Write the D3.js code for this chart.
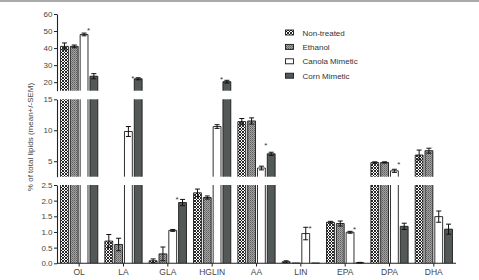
<!DOCTYPE html>
<html><head><meta charset="utf-8">
<script src="https://cdn.jsdelivr.net/npm/d3@7"></script>
<style>html,body{margin:0;padding:0;background:#fff;}svg{display:block;font-family:"Liberation Sans",Arial,sans-serif;}</style>
</head><body>
<script>
const categories = ["OL","LA","GLA","HGLIN","AA","LIN","EPA","DPA","DHA"];
const seriesNames = ["Non-treated","Ethanol","Canola Mimetic","Corn Mimetic"];
const nonTreated    = [41.0, 0.71, 0.08, 2.25, 11.4, 0.05, 1.31, 4.78, 6.0];
const nonTreatedSem = [2.0, 0.21, 0.06, 0.12, 0.5, 0.03, 0.03, 0.12, 0.8];
const ethanol       = [41.0, 0.60, 0.30, 2.10, 11.5, 0.01, 1.27, 4.80, 6.7];
const ethanolSem    = [0.8, 0.20, 0.22, 0.05, 0.5, 0.0, 0.08, 0.10, 0.4];
const canola        = [48.0, 9.8, 1.05, 10.6, 3.9, 0.95, 0.99, 3.45, 1.49];
const canolaSem     = [0.8, 0.8, 0.03, 0.3, 0.3, 0.2, 0.03, 0.25, 0.18];
const corn          = [23.5, 22.0, 1.94, 20.3, 6.2, 0.01, 0.02, 1.18, 1.09];
const cornSem       = [1.5, 0.6, 0.10, 0.8, 0.25, 0.0, 0.01, 0.10, 0.16];
const starAt        = [51.6, 23.2, 2.10, 22.6, 7.8, 1.17, 1.14, 4.82, null];
const bottomTicks = [0, 0.5, 1.0, 1.5, 2.0, 2.5];
const middleTicks = [5, 10, 15];
const topTicks = [20, 30, 40, 50, 60];
const yLabel = "% of total lipids (mean+/-SEM)";

const W = 479, H = 280;
const svg = d3.select("body").append("svg").attr("width", W).attr("height", H);
const defs = svg.append("defs");
const p1 = defs.append("pattern").attr("id","hatch").attr("patternUnits","userSpaceOnUse").attr("width",3).attr("height",3);
p1.append("rect").attr("width",3).attr("height",3).attr("fill","#fff");
p1.append("path").attr("d","M0,0L3,3M3,0L0,3").attr("stroke","#111").attr("stroke-width",0.9);
const p2 = defs.append("pattern").attr("id","dots").attr("patternUnits","userSpaceOnUse").attr("width",2).attr("height",2);
p2.append("rect").attr("width",2).attr("height",2).attr("fill","#a3a3a3");
p2.append("rect").attr("width",1).attr("height",1).attr("fill","#5e5e5e");
p2.append("rect").attr("x",1).attr("y",1).attr("width",1).attr("height",1).attr("fill","#7a7a7a");

const fills = ["url(#hatch)","url(#dots)","#ffffff","#535958"];

svg.append("rect").attr("x",0).attr("y",0).attr("width",W).attr("height",2).attr("fill","#aaaaaa");

const segments = [
  {d:[0,2.5], r:[263.3,185], ticks:bottomTicks, fmt:d3.format(".1f")},
  {d:[2.5,15], r:[176.7,99.3], ticks:middleTicks, fmt:d3.format("d")},
  {d:[15,60], r:[90.7,14], ticks:topTicks, fmt:d3.format("d")}
];
segments.forEach(s => s.y = d3.scaleLinear().domain(s.d).range(s.r));
function segOf(v){ for (const s of segments) if (v <= s.d[1]) return s; return segments[2]; }
function yv(v){ return segOf(v).y(v); }

const x0 = d3.scaleBand().domain(categories).range([57,456]).paddingInner(0.16).paddingOuter(0.08);
const x1 = d3.scaleBand().domain(seriesNames).range([0,x0.bandwidth()]).paddingInner(0.2);

const values = [nonTreated, ethanol, canola, corn];
const sems = [nonTreatedSem, ethanolSem, canolaSem, cornSem];
const rows = [];
categories.forEach((c,i) => seriesNames.forEach((s,j) => rows.push({c, s, j, v:values[j][i], e:sems[j][i]})));

const gBars = svg.append("g");
segments.forEach(seg => {
  const data = rows.filter(d => d.v > seg.d[0]);
  const g = gBars.append("g");
  g.selectAll("rect").data(data).join("rect")
    .attr("x", d => x0(d.c) + x1(d.s))
    .attr("width", x1.bandwidth())
    .attr("y", d => seg.y(Math.min(d.v, seg.d[1])))
    .attr("height", d => Math.max(0.3, seg.y(seg.d[0]) - seg.y(Math.min(d.v, seg.d[1]))))
    .attr("fill", d => fills[d.j]);
  g.selectAll("path").data(data).join("path")
    .attr("fill","none").attr("stroke","#1a1a1a").attr("stroke-width",0.9)
    .attr("d", d => {
      const xl = x0(d.c) + x1(d.s), xr = xl + x1.bandwidth();
      const yb = seg.y(seg.d[0]);
      const ends = d.v <= seg.d[1];
      const yt = seg.y(Math.min(d.v, seg.d[1]));
      return ends ? `M${xl},${yb}V${yt}H${xr}V${yb}` : `M${xl},${yb}V${yt}M${xr},${yt}V${yb}`;
    });
});

const gErr = svg.append("g").attr("stroke","#111").attr("stroke-width",1).attr("fill","none");
rows.filter(d => d.e > 0).forEach(d => {
  const s = segOf(d.v);
  const cx = x0(d.c) + x1(d.s) + x1.bandwidth()/2;
  const yt = s.y(Math.min(d.v + d.e, s.d[1]));
  const yb = s.y(Math.max(d.v - d.e, s.d[0]));
  const hw = 2.5;
  gErr.append("path").attr("d", `M${cx},${yt}V${yb}M${cx-hw},${yt}H${cx+hw}M${cx-hw},${yb}H${cx+hw}`);
});

categories.forEach((c,i) => {
  if (starAt[i] == null) return;
  const sx = x0(c) + x1("Corn Mimetic") - 1.5;
  svg.append("text").attr("x", sx).attr("y", yv(starAt[i]) + 4.6)
    .attr("text-anchor","middle").attr("font-size", 8).attr("fill","#333").text("*");
});

segments.forEach(seg => {
  const ax = d3.axisLeft(seg.y).tickValues(seg.ticks).tickFormat(seg.fmt).tickSize(3).tickSizeOuter(0).tickPadding(1.5);
  const g = svg.append("g").attr("transform","translate(57,0)").call(ax);
  g.select(".domain").attr("stroke","#222").attr("stroke-width",1.1);
  g.selectAll(".tick line").attr("stroke","#222");
  g.selectAll(".tick text").attr("font-size",8).attr("fill","#444").attr("font-family","Liberation Sans, Arial, sans-serif");
});

const xa = svg.append("g");
xa.append("line").attr("x1",57).attr("x2",456).attr("y1",263.3).attr("y2",263.3).attr("stroke","#222").attr("stroke-width",1.1);
xa.selectAll(".xt").data(categories).join("line")
  .attr("x1", d => x0(d)+x0.bandwidth()/2).attr("x2", d => x0(d)+x0.bandwidth()/2)
  .attr("y1",263.3).attr("y2",266.5).attr("stroke","#222");
xa.selectAll("text").data(categories).join("text")
  .attr("x", d => x0(d)+x0.bandwidth()/2).attr("y",274.8)
  .attr("text-anchor","middle").attr("font-size",8.5).attr("fill","#444").text(d => d);

svg.append("text").attr("transform","translate(32.5,137) rotate(-90)")
  .attr("text-anchor","middle").attr("font-size",8).attr("fill","#444").text(yLabel);

const lg = svg.append("g");
seriesNames.forEach((s,j) => {
  const cy = 32.5 + j*14.4;
  lg.append("rect").attr("x",285.5).attr("y",cy-2.5).attr("width",8).attr("height",5)
    .attr("fill",fills[j]).attr("stroke","#1a1a1a").attr("stroke-width",0.9);
  lg.append("text").attr("x",302.5).attr("y",cy+3).attr("font-size",8).attr("fill","#333").text(s);
});
</script>
</body></html>
